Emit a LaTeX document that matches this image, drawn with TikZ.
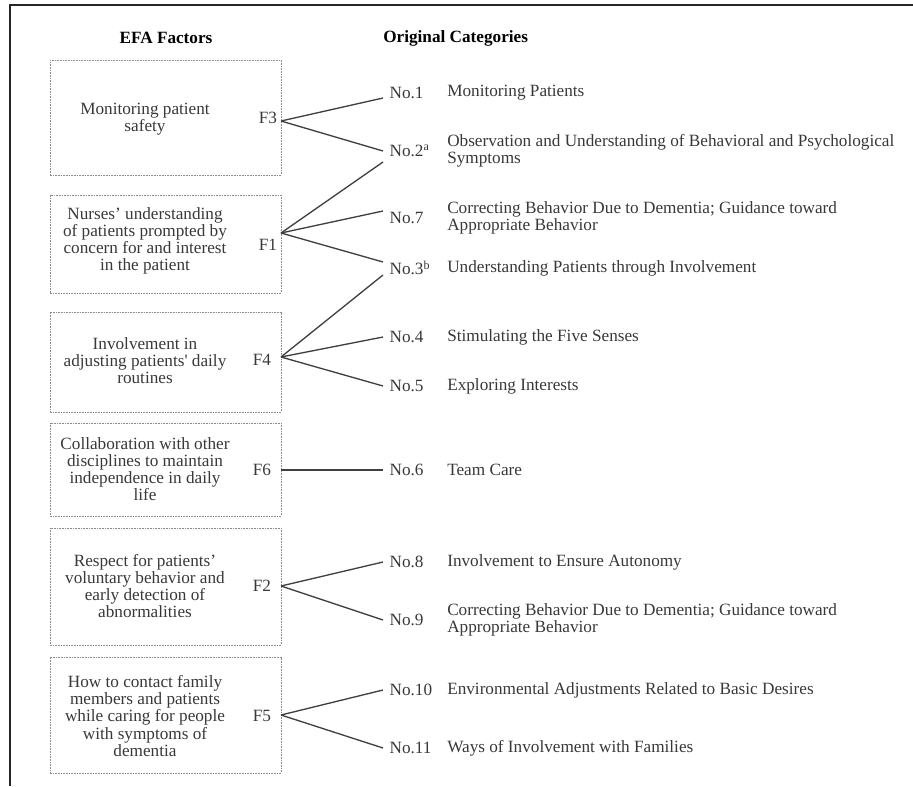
\documentclass[tikz,border=0pt]{standalone}
\usepackage{fontspec}
\setmainfont{Liberation Serif}
\usetikzlibrary{fit,calc}
\definecolor{inkgray}{HTML}{383838}
\definecolor{boxgray}{HTML}{8C8C8C}
\definecolor{linegray}{HTML}{404040}

\begin{document}
\begin{tikzpicture}[x=0.75pt,y=-0.75pt,
    factbox/.style={draw=boxgray, line width=0.6pt, dash pattern=on 1.2pt off 0.8pt, inner sep=0pt},
    desc/.style={align=center, text=inkgray, inner sep=0pt, font=\fontsize{12.9}{12.8}\selectfont},
    flabel/.style={text=inkgray, inner sep=0pt, font=\fontsize{12.9}{12.8}\selectfont},
    head/.style={inner sep=0pt, font=\fontsize{12.9}{12.8}\selectfont\bfseries},
    nolab/.style={anchor=west, inner sep=0pt, outer xsep=5pt, text=inkgray, font=\fontsize{12.9}{12.8}\selectfont},
    cattext/.style={anchor=west, align=left, inner sep=0pt, text=inkgray, font=\fontsize{12.9}{12.8}\selectfont},
    link/.style={draw=linegray, line width=1pt}]

\useasboundingbox (0,0) rectangle (913,786);

% Frame
\draw[line width=2.2pt, draw=black!85] (10,786) -- (10,5) -- (913,5);

% Headers
\node[head] (hfact) at (166,38) {EFA Factors};
\node[head, anchor=west] (hcat) at (383,38) {Original Categories};

% Factor boxes
\foreach \k/\top/\bot in {3/60/175, 1/195/293, 4/312/412, 6/423/516, 2/528/645, 5/657/773}
    \node[factbox, fit={(50,\top) (281,\bot)}] (box\k) {};

\node[desc] (d3) at (145,119) {Monitoring patient\\safety};
\node[desc] (d1) at (145,241) {Nurses’ understanding\\of patients prompted by\\concern for and interest\\in the patient};
\node[desc] (d4) at (145,361) {Involvement in\\adjusting patients\textquotesingle\ daily\\routines};
\node[desc] (d6) at (145,469) {Collaboration with other\\disciplines to maintain\\independence in daily\\life};
\node[desc] (d2) at (145,586) {Respect for patients’\\voluntary behavior and\\early detection of\\abnormalities};
\node[desc] (d5) at (145,716) {How to contact family\\members and patients\\while caring for people\\with symptoms of\\dementia};

\node[flabel] (f3) at (268,118) {F3};
\node[flabel] (f1) at (268,245) {F1};
\node[flabel] (f4) at (262,360) {F4};
\node[flabel] (f6) at (262,470) {F6};
\node[flabel] (f2) at (262,586) {F2};
\node[flabel] (f5) at (262,716) {F5};

% Junctions on the box edges
\coordinate (j3) at (281,121);
\coordinate (j1) at (281,233);
\coordinate (j4) at (281,357);
\coordinate (j6) at (281,470);
\coordinate (j2) at (281,586);
\coordinate (j5) at (281,715);

% Original categories
\foreach \n/\y/\lab/\txt in {
    1/93/{No.1}/{Monitoring Patients},
    2/151/{No.2\textsuperscript{a}}/{Observation and Understanding of Behavioral and Psychological\\Symptoms},
    7/218/{No.7}/{Correcting Behavior Due to Dementia; Guidance toward\\Appropriate Behavior},
    3/268/{No.3\textsuperscript{b}}/{Understanding Patients through Involvement},
    4/337/{No.4}/{Stimulating the Five Senses},
    5/386/{No.5}/{Exploring Interests},
    6/470/{No.6}/{Team Care},
    8/562/{No.8}/{Involvement to Ensure Autonomy},
    9/620/{No.9}/{Correcting Behavior Due to Dementia; Guidance toward\\Appropriate Behavior},
    10/690/{No.10}/{Environmental Adjustments Related to Basic Desires},
    11/748/{No.11}/{Ways of Involvement with Families}}
{
    \node[nolab] (n\n) at (383,\y) {\lab};
    \node[cattext] (c\n) at (447,\y) {\txt};
}

% Links
\draw[link] (j3) -- ($(n1.west)+(0,5)$);
\draw[link] (j3) -- (n2.west);
\draw[link] (j1) -- ($(n2.west)+(0,11)$);
\draw[link] (j1) -- ($(n7.west)+(0,-7)$);
\draw[link] (j1) -- ($(n3.west)+(0,-6)$);
\draw[link] (j4) -- ($(n3.west)+(0,7)$);
\foreach \a/\b in {4/4, 4/5, 6/6, 2/8, 2/9, 5/10, 5/11}
    \draw[link] (j\a) -- (n\b.west);
\end{tikzpicture}
\end{document}
